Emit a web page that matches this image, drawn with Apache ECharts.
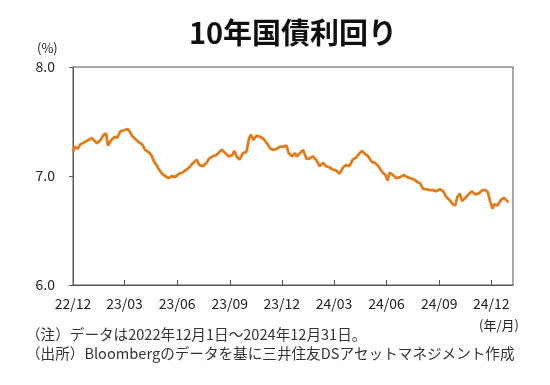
<!DOCTYPE html>
<html><head><meta charset="utf-8">
<script src="https://cdn.jsdelivr.net/npm/echarts@6/dist/echarts.min.js"></script>
<style>html,body{margin:0;padding:0;background:#fff}#c{width:550px;height:385px}</style>
</head><body><div id="c"></div>
<script>
const titleText = '10年国債利回り';
const unitY = '(%)';
const unitX = '(年/月)';
const note1 = '（注）データは2022年12月1日～2024年12月31日。';
const note2 = '（出所）Bloombergのデータを基に三井住友DSアセットマネジメント作成';

const tickDates = ['2022-12-01','2023-03-01','2023-06-01','2023-09-01','2023-12-01','2024-03-01','2024-06-01','2024-09-01','2024-12-01'];
const tickLabels = ['22/12','23/03','23/06','23/09','23/12','24/03','24/06','24/09','24/12'];
const axisStart = '2022-12-01';
const axisEnd = '2025-01-08';

const dates = [
'2022-12-01','2022-12-04','2022-12-09','2022-12-14','2022-12-21','2022-12-28',
'2023-01-03','2023-01-08','2023-01-12','2023-01-18','2023-01-24','2023-01-28','2023-01-31',
'2023-02-06','2023-02-12','2023-02-16','2023-02-22','2023-02-28',
'2023-03-06','2023-03-10','2023-03-14','2023-03-20','2023-03-26',
'2023-04-01','2023-04-06','2023-04-12','2023-04-17','2023-04-22','2023-04-26','2023-04-30',
'2023-05-06','2023-05-11','2023-05-17','2023-05-23','2023-05-29',
'2023-06-04','2023-06-10','2023-06-18','2023-06-24','2023-06-29',
'2023-07-05','2023-07-10','2023-07-16','2023-07-22','2023-07-27',
'2023-08-02','2023-08-08','2023-08-14','2023-08-18','2023-08-24','2023-08-30',
'2023-09-05','2023-09-09','2023-09-13','2023-09-18','2023-09-24','2023-09-30',
'2023-10-05','2023-10-08','2023-10-12','2023-10-18','2023-10-24','2023-10-30',
'2023-11-05','2023-11-11','2023-11-16','2023-11-22','2023-11-28',
'2023-12-04','2023-12-09','2023-12-13','2023-12-19','2023-12-24','2023-12-27',
'2024-01-02','2024-01-07','2024-01-13','2024-01-18','2024-01-24','2024-01-30',
'2024-02-05','2024-02-11','2024-02-16','2024-02-22','2024-02-28',
'2024-03-05','2024-03-11','2024-03-17','2024-03-22','2024-03-28',
'2024-04-03','2024-04-09','2024-04-15','2024-04-19','2024-04-25','2024-04-30',
'2024-05-06','2024-05-12','2024-05-18','2024-05-24','2024-05-30',
'2024-06-03','2024-06-06','2024-06-12','2024-06-18','2024-06-25',
'2024-07-01','2024-07-07','2024-07-12','2024-07-18','2024-07-24','2024-07-30',
'2024-08-04','2024-08-09','2024-08-15','2024-08-21','2024-08-27',
'2024-09-02','2024-09-08','2024-09-13','2024-09-19','2024-09-25','2024-09-29',
'2024-10-03','2024-10-07','2024-10-11','2024-10-17','2024-10-22','2024-10-28',
'2024-11-03','2024-11-09','2024-11-15','2024-11-21','2024-11-25','2024-11-29',
'2024-12-03','2024-12-06','2024-12-12','2024-12-18','2024-12-23','2024-12-27','2024-12-31'
];
const yields = [
7.22,7.27,7.25,7.29,7.31,7.33,
7.35,7.32,7.30,7.33,7.38,7.39,7.28,
7.33,7.36,7.35,7.41,7.42,
7.43,7.41,7.37,7.34,7.31,
7.29,7.24,7.22,7.19,7.13,7.10,7.06,
7.02,7.00,6.98,7.00,6.99,
7.02,7.03,7.06,7.09,7.12,
7.15,7.10,7.09,7.12,7.16,
7.18,7.19,7.22,7.24,7.21,7.18,
7.19,7.23,7.18,7.15,7.21,7.22,
7.35,7.38,7.33,7.37,7.36,7.34,
7.30,7.25,7.24,7.25,7.27,
7.27,7.28,7.21,7.18,7.21,7.18,
7.21,7.24,7.16,7.16,7.18,7.15,
7.09,7.12,7.09,7.08,7.06,
7.05,7.02,7.08,7.10,7.09,
7.15,7.17,7.21,7.23,7.20,7.18,
7.13,7.12,7.09,7.04,7.01,
6.96,7.03,7.01,6.98,6.99,
7.01,6.99,6.98,6.97,6.95,6.93,
6.88,6.88,6.87,6.87,6.86,
6.88,6.86,6.81,6.78,6.74,6.73,
6.81,6.84,6.77,6.80,6.83,6.86,
6.83,6.84,6.87,6.87,6.85,6.77,
6.70,6.74,6.73,6.78,6.80,6.78,6.76
];

const FONT = '"Noto Sans CJK JP", "Noto Sans", sans-serif';
const ts = d => Date.UTC(+d.slice(0,4), +d.slice(5,7) - 1, +d.slice(8,10));
const tickTs = tickDates.map(ts);
const labelMap = {};
tickTs.forEach((t, i) => { labelMap[t] = tickLabels[i]; });

const chart = echarts.init(document.getElementById('c'), null, {renderer: 'canvas'});
chart.setOption({
  animation: false,
  backgroundColor: '#fff',
  title: {
    text: titleText, left: 288, top: 13, textAlign: 'center',
    textStyle: {fontFamily: FONT, fontSize: 29, fontWeight: 'bold', color: '#111'}
  },
  grid: {left: 73, right: 37, top: 67, bottom: 100, show: true, borderColor: '#555', borderWidth: 1, backgroundColor: 'transparent'},
  xAxis: {
    type: 'value',
    min: ts(axisStart),
    max: ts(axisEnd),
    axisLine: {show: true, lineStyle: {color: '#555', width: 1}},
    axisTick: {show: true, inside: true, length: 5, lineStyle: {color: '#555'}, customValues: tickTs},
    axisLabel: {
      customValues: tickTs, margin: 12, color: '#222', fontFamily: FONT, fontSize: 14,
      formatter: v => labelMap[v] || ''
    },
    splitLine: {show: false}
  },
  yAxis: {
    type: 'value', min: 6, max: 8, interval: 1,
    axisLine: {show: true, lineStyle: {color: '#555', width: 1}},
    axisTick: {show: true, inside: false, length: 4, lineStyle: {color: '#555'}},
    axisLabel: {margin: 18, color: '#222', fontFamily: FONT, fontSize: 14, formatter: v => v.toFixed(1)},
    splitLine: {show: false}
  },
  series: [{
    type: 'line', data: dates.map((d, i) => [ts(d), yields[i]]),
    showSymbol: false, symbol: 'none',
    lineStyle: {color: '#DE7F1F', width: 2.8}, itemStyle: {color: '#DE7F1F'}
  }],
  graphic: [
    {type: 'text', left: 37, top: 42, style: {text: unitY, font: '13px ' + FONT, fill: '#222'}},
    {type: 'text', left: 479, top: 319, style: {text: unitX, font: '13px ' + FONT, fill: '#222'}},
    {type: 'text', left: 26, top: 327, style: {text: note1, font: '14.6px ' + FONT, fill: '#333'}},
    {type: 'text', left: 26, top: 346, style: {text: note2, font: '14.6px ' + FONT, fill: '#333'}}
  ]
});
</script></body></html>
